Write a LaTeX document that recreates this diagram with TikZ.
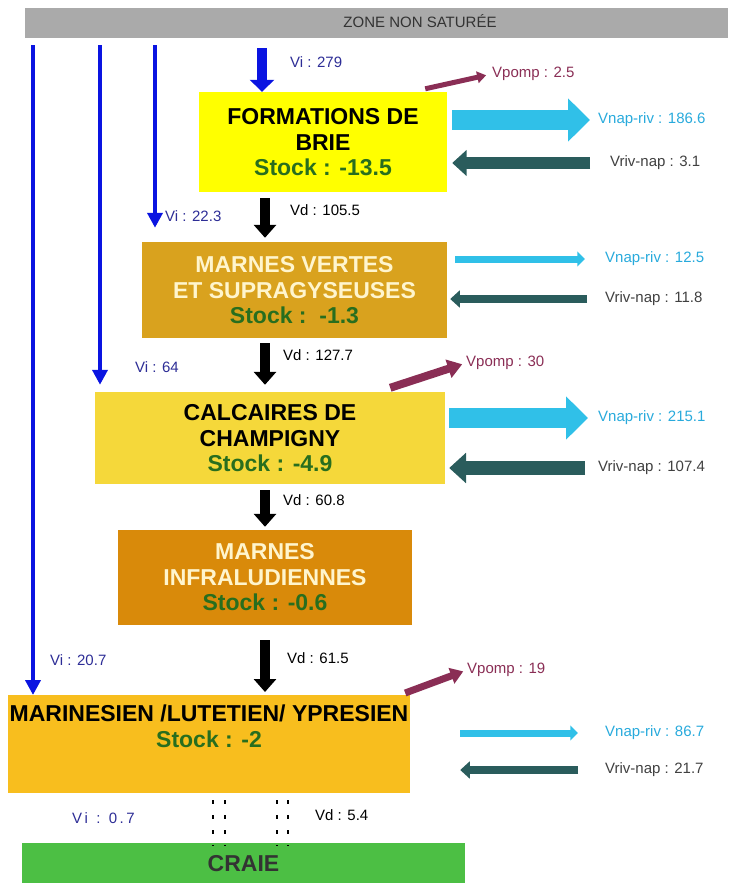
\documentclass[tikz,border=0pt]{standalone}
\usepackage{fontspec}
\setmainfont{Liberation Sans}
\usetikzlibrary{arrows.meta}

\definecolor{zone}{RGB}{170,170,170}
\definecolor{brie}{RGB}{255,255,0}
\definecolor{vertes}{RGB}{217,162,30}
\definecolor{calc}{RGB}{245,216,58}
\definecolor{infra}{RGB}{217,138,10}
\definecolor{marin}{RGB}{248,190,30}
\definecolor{craie}{RGB}{76,191,68}
\definecolor{vblue}{RGB}{10,20,225}
\definecolor{vilab}{RGB}{45,45,150}
\definecolor{cyanarr}{RGB}{48,192,232}
\definecolor{cyanlab}{RGB}{40,170,220}
\definecolor{teal}{RGB}{42,92,92}
\definecolor{pomp}{RGB}{138,46,85}
\definecolor{stockg}{RGB}{40,110,30}
\definecolor{cream}{RGB}{255,245,205}

\begin{document}
\begin{tikzpicture}[x=1pt,y=-1pt,
	box/.style={draw=none,inner sep=0pt,align=center,font=\fontsize{23}{26}\selectfont\bfseries},
	lab/.style={inner sep=0pt,anchor=west,font=\fontsize{15}{17}\selectfont},
	stk/.style={text=stockg},
	vi/.style={draw=vblue,line width=4pt,-{Triangle[width=15pt,length=15pt]}},
	vd/.style={draw=black,line width=10pt,-{Triangle[width=22pt,length=13pt]}},
	pompa/.style={draw=pomp,-{Triangle[width=2.3*#1,length=1.8*#1]},line width=#1},
	napriv/.style={draw=cyanarr,-{Triangle[width=2.1*#1,length=1.1*#1]},line width=#1},
	rivnap/.style={draw=teal,-{Triangle[width=2.1*#1,length=1.2*#1]},line width=#1}]
	\useasboundingbox (0,0) rectangle (732,883);
	
	% couches
	\node[box,fill=zone,minimum width=703pt,minimum height=30pt] (zns) at (376.5,23) {};
	\node[inner sep=0pt,font=\fontsize{15}{17}\selectfont,text=black!80] (znstxt) at (420,21) {ZONE NON SATURÉE};
	\node[box,fill=brie,minimum width=248pt,minimum height=100pt] (fbrie) at (323,142) {FORMATIONS DE\\BRIE\\[-1pt]{\color{stockg}Stock : -13.5}};
	\node[box,fill=vertes,minimum width=305pt,minimum height=96pt,text=cream] (mvertes) at (294.5,290) {MARNES VERTES\\ET SUPRAGYSEUSES\\[-1pt]{\color{stockg}Stock :\ \ -1.3}};
	\node[box,fill=calc,minimum width=350pt,minimum height=92pt] (champ) at (270,438) {CALCAIRES DE\\CHAMPIGNY\\[-1pt]{\color{stockg}Stock : -4.9}};
	\node[box,fill=infra,minimum width=294pt,minimum height=95pt,text=cream] (minfra) at (265,577.5) {MARNES\\INFRALUDIENNES\\[-1pt]{\color{stockg}Stock : -0.6}};
	\node[box,fill=marin,minimum width=402pt,minimum height=98pt,anchor=north] (mly) at (209,695) {MARINESIEN /LUTETIEN/ YPRESIEN\\{\color{stockg}Stock : -2}\\[10pt]};
	\node[box,fill=craie,minimum width=443pt,minimum height=42pt,text=black!80] (craie) at (243.5,864) {CRAIE};
	
	% colonnes des fleches
	\coordinate (c1) at (33,0);
	\coordinate (c2) at (100,0);
	\coordinate (c3) at (155,0);
	\coordinate (c4) at (262,0);
	\coordinate (cd) at (265,0);
	
	% infiltration
	\node[lab,text=vilab] (vi1) at (290,62) {Vi : 279};
	\node[lab,text=vilab] (vi2) at (165,216) {Vi : 22.3};
	\node[lab,text=vilab] (vi3) at (135,367) {Vi : 64};
	\node[lab,text=vilab] (vi4) at (50,660) {Vi : 20.7};
	\node[lab,text=vilab] (vi5) at (72,818) {V\,i\ \ :\ \ 0\,.\,7};
	\draw[vi,shorten <=7pt] (zns.south -| c1) -- (mly.north -| c1);
	\draw[vi,shorten <=7pt,shorten >=7pt] (zns.south -| c2) -- (champ.north -| c2);
	\draw[vi,shorten <=7pt,shorten >=14pt] (zns.south -| c3) -- (mvertes.north -| c3);
	\draw[draw=vblue,line width=10pt,-{Triangle[width=24pt,length=12pt]},shorten <=10pt] (zns.south -| c4) -- (fbrie.north -| c4);
	
	% drainance
	\node[lab] (vd1) at (290,210) {Vd : 105.5};
	\node[lab] (vd2) at (283,355) {Vd : 127.7};
	\node[lab] (vd3) at (283,500) {Vd : 60.8};
	\node[lab] (vd4) at (287,658) {Vd : 61.5};
	\node[lab] (vd5) at (315,815) {Vd : 5.4};
	\draw[vd,shorten <=6pt,shorten >=4pt] (fbrie.south -| cd) -- (mvertes.north -| cd);
	\draw[vd,shorten <=5pt,shorten >=7pt] (mvertes.south -| cd) -- (champ.north -| cd);
	\draw[vd,shorten <=6pt,shorten >=3pt] (champ.south -| cd) -- (minfra.north -| cd);
	\draw[vd,shorten <=15pt,shorten >=3pt] (minfra.south -| cd) -- (mly.north -| cd);
	\foreach \x in {213,225,277,288}
	\draw[line width=2.5pt,dash pattern=on 4pt off 11pt] (\x,800) -- (\x,846);
	
	% pompages
	\node[lab,text=pomp] (vp1) at (492,74) {Vpomp : 2.5};
	\node[lab,text=pomp] (vp2) at (466,363) {Vpomp : 30};
	\node[lab,text=pomp] (vp3) at (467,670) {Vpomp : 19};
	\draw[pompa=5pt,shorten >=6pt] ([xshift=-22pt,yshift=3pt]fbrie.north east) -- (vp1.west);
	\draw[pompa=8pt,shorten >=4pt] ([xshift=-55pt,yshift=4pt]champ.north east) -- (vp2.west);
	\draw[pompa=7pt,shorten >=4pt] ([xshift=-5pt,yshift=2pt]mly.north east) -- (vp3.west);
	
	% echanges nappe-riviere
	\node[lab,text=cyanlab] (nr1) at (598,120) {Vnap-riv : 186.6};
	\node[lab,text=black!75] (rn1) at (610,163) {Vriv-nap : 3.1};
	\node[lab,text=cyanlab] (nr2) at (605,259) {Vnap-riv : 12.5};
	\node[lab,text=black!75] (rn2) at (605,299) {Vriv-nap : 11.8};
	\node[lab,text=cyanlab] (nr3) at (598,418) {Vnap-riv : 215.1};
	\node[lab,text=black!75] (rn3) at (598,468) {Vriv-nap : 107.4};
	\node[lab,text=cyanlab] (nr4) at (605,733) {Vnap-riv : 86.7};
	\node[lab,text=black!75] (rn4) at (605,770) {Vriv-nap : 21.7};
	\draw[napriv=20pt,shorten <=5pt,shorten >=8pt] (fbrie.east |- nr1) -- (nr1.west);
	\draw[rivnap=12pt,shorten <=20pt,shorten >=5pt] (rn1.west) -- (fbrie.east |- rn1);
	\draw[napriv=7pt,shorten <=8pt,shorten >=20pt] (mvertes.east |- nr2) -- (nr2.west);
	\draw[rivnap=8pt,shorten <=18pt,shorten >=3pt] (rn2.west) -- (mvertes.east |- rn2);
	\draw[napriv=20pt,shorten <=4pt,shorten >=10pt] (champ.east |- nr3) -- (nr3.west);
	\draw[rivnap=14pt,shorten <=13pt,shorten >=4pt] (rn3.west) -- (champ.east |- rn3);
	\draw[napriv=7pt,shorten <=50pt,shorten >=27pt] (mly.east |- nr4) -- (nr4.west);
	\draw[rivnap=8pt,shorten <=27pt,shorten >=50pt] (rn4.west) -- (mly.east |- rn4);
\end{tikzpicture}
\end{document}
